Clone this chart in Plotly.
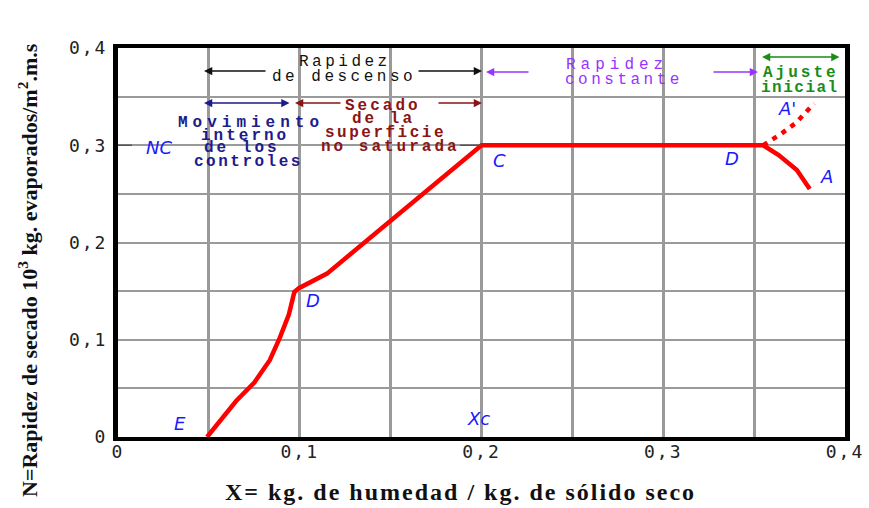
import plotly.graph_objects as go

# Drying-rate curve (falling rate E -> D -> C, constant rate C -> D, initial adjustment D -> A)
x_main = [0.049, 0.065, 0.075, 0.0835, 0.089, 0.094, 0.097, 0.0995, 0.115, 0.2,
          0.355, 0.3635, 0.3735, 0.3776, 0.3806]
y_main = [0.0, 0.037, 0.056, 0.079, 0.102, 0.126, 0.149, 0.153, 0.168, 0.3,
          0.3, 0.29, 0.2746, 0.264, 0.255]
# Alternative initial adjustment D -> A'
x_alt = [0.355, 0.365, 0.373, 0.383]
y_alt = [0.3, 0.312, 0.323, 0.343]

tick_vals = [0, 0.05, 0.1, 0.15, 0.2, 0.25, 0.3, 0.35, 0.4]
tick_text = ["0", "", "0,1", "", "0,2", "", "0,3", "", "0,4"]

# plot area in pixels
L, R, T, B = 118, 845, 48, 437
W, H = 869, 508


def xd(px):
    return (px - L) / (R - L) * 0.4


def yd(py):
    return (B - py) / (B - T) * 0.4


def sp(s, ls):
    return f'<span style="letter-spacing:{ls}px">{s}</span>'


MONO = "Liberation Mono"
SERIF = "Liberation Serif"

fig = go.Figure()
fig.add_trace(go.Scatter(x=x_main, y=y_main, mode="lines",
                         line=dict(color="#ff0000", width=4.5), hoverinfo="skip"))
fig.add_trace(go.Scatter(x=x_alt, y=y_alt, mode="lines",
                         line=dict(color="#ff0000", width=4.5, dash="5px,6px"),
                         hoverinfo="skip"))

ann = []


def label(text, px, py, color, size=16, family=MONO, ls=3, bold=True):
    t = sp(text, ls)
    if bold:
        t = f"<b>{t}</b>"
    ann.append(dict(x=xd(px), y=yd(py), xref="x", yref="y", text=t, showarrow=False,
                    font=dict(family=family, size=size, color=color),
                    xanchor="center", yanchor="middle"))


def arrow(tip, tail, color, both=False):
    ann.append(dict(x=xd(tip[0]), y=yd(tip[1]), ax=xd(tail[0]), ay=yd(tail[1]),
                    xref="x", yref="y", axref="x", ayref="y", text="",
                    showarrow=True, arrowhead=2, arrowsize=1.1, arrowwidth=1.5,
                    arrowcolor=color, arrowside="end+start" if both else "end"))


BLACK = "#111111"
NAVY = "#1c1c8a"
MAROON = "#8b1414"
PURPLE = "#9933ff"
GREEN = "#1a8c1a"
BLUE = "#1a1aff"

# Rapidez de descenso
label("Rapidez", 345, 62, BLACK, ls=3.5, bold=False)
label("de descenso", 344, 77, BLACK, ls=3.5, bold=False)
arrow((204, 71), (267, 71), BLACK)
arrow((482, 71), (417, 71), BLACK)

# Movimiento interno de los controles
label("Movimiento", 251, 123, NAVY, ls=5)
label("interno", 245, 136, NAVY, ls=3)
label("de los", 242, 148, NAVY, ls=3)
label("controles", 248, 162, NAVY, ls=2.5)
arrow((204, 103), (291, 103), NAVY, both=True)

# Secado de la superficie no saturada
label("Secado", 383, 106, MAROON, ls=3)
label("de la", 383, 119, MAROON, ls=3)
label("superficie", 385, 133, MAROON, ls=2.5)
label("no saturada", 390, 147, MAROON, ls=3)
arrow((295, 103), (342, 103), MAROON)
arrow((482, 103), (437, 103), MAROON)

# Rapidez constante
label("Rapidez", 617, 65, PURPLE, ls=5, bold=False)
label("constante", 624, 80, PURPLE, ls=3.5, bold=False)
arrow((486, 72), (530, 72), PURPLE)
arrow((758, 72), (712, 72), PURPLE)

# Ajuste inicial
label("Ajuste", 801, 73, GREEN, ls=3)
label("inicial", 800, 88, GREEN, ls=1.5)
arrow((762, 57), (841, 57), GREEN, both=True)

# point labels
for txt, px, py in [("NC", 159, 147), ("C", 499, 160), ("D", 313, 300), ("E", 180, 423),
                    ("Xc", 478, 418), ("D", 732, 158), ("A'", 787, 108),
                    ("A", 826, 176)]:
    ann.append(dict(x=xd(px), y=yd(py), xref="x", yref="y", text=f"<i>{txt}</i>",
                    showarrow=False, font=dict(family="DejaVu Sans", size=18, color=BLUE),
                    xanchor="center", yanchor="middle"))

# axis titles
ann.append(dict(x=(460 - L) / (R - L), y=(B - 492) / (B - T), xref="paper", yref="paper",
                text="<b>" + sp("X= kg. de humedad / kg. de sólido seco", 2) + "</b>",
                showarrow=False,
                font=dict(family=SERIF, size=24, color="#111111"),
                xanchor="center", yanchor="middle"))
ann.append(dict(x=(28 - L) / (R - L), y=(B - 270) / (B - T), xref="paper", yref="paper",
                text="<b>N=Rapidez de secado 10<sup>3</sup> kg. evaporados/m<sup>2</sup>.m.s</b>",
                textangle=-90, showarrow=False,
                font=dict(family=SERIF, size=22, color="#111111"),
                xanchor="center", yanchor="middle"))

# short reference marks at the critical rate NC
shapes = [
    dict(type="line", x0=0, x1=xd(132), y0=0.3, y1=0.3, xref="x", yref="y",
         line=dict(color="#555555", width=1.5)),
    dict(type="line", x0=xd(460), x1=0.2, y0=0.3, y1=0.3, xref="x", yref="y",
         line=dict(color="#555555", width=1.5)),
]

tick_font = dict(family="DejaVu Sans Mono", size=18, color="#222222")
fig.update_layout(
    width=W, height=H,
    margin=dict(l=L, r=W - R, t=T, b=H - B),
    paper_bgcolor="white", plot_bgcolor="white",
    showlegend=False,
    annotations=ann,
    shapes=shapes,
    xaxis=dict(range=[0, 0.4], tickvals=tick_vals, automargin=False,
               ticktext=[sp(t, 2) for t in tick_text], tickfont=tick_font,
               showgrid=True, gridcolor="#9a9a9a", gridwidth=2.5, zeroline=False,
               showline=True, linecolor="black", linewidth=4, mirror=True,
               ticks="", ticklabelstandoff=-5),
    yaxis=dict(range=[0, 0.4], tickvals=tick_vals, automargin=False,
               ticktext=[sp(t, 2) for t in tick_text], tickfont=tick_font,
               showgrid=True, gridcolor="#9a9a9a", gridwidth=2, zeroline=False,
               showline=True, linecolor="black", linewidth=5, mirror=True,
               ticks="", ticklabelstandoff=2),
)

fig.write_html("out.html")
